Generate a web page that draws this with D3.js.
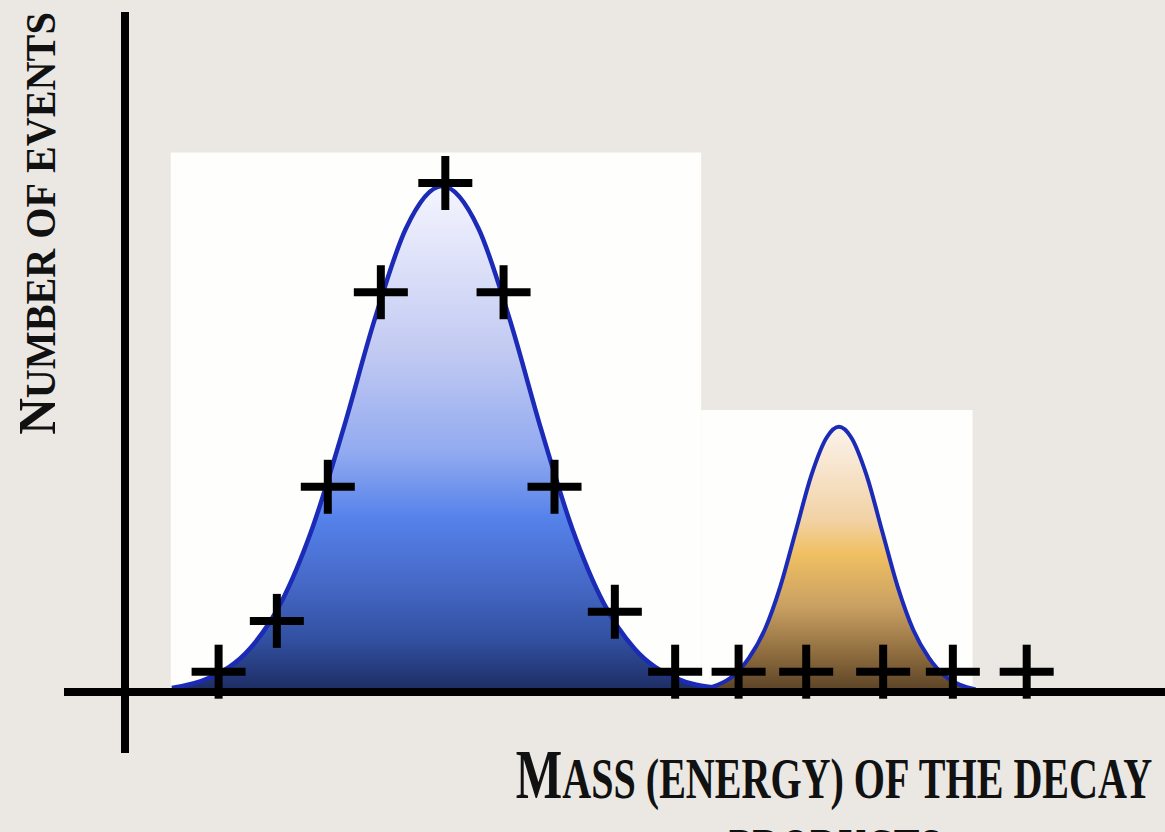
<!DOCTYPE html>
<html>
<head>
<meta charset="utf-8">
<script src="https://cdn.jsdelivr.net/npm/d3@7"></script>
<style>
  html, body { margin: 0; padding: 0; background: #ebe8e3; }
  svg { display: block; }
</style>
</head>
<body>
<div id="chart"></div>
<script>
// measured points (mass units, events)
const pointMass   = [9.0, 14.6, 19.5, 24.6, 30.8, 36.4, 41.3, 47.1, 52.9, 59.0, 65.5, 72.9, 79.6, 86.7];
const pointEvents = [3.8, 13.8, 40.2, 78.5, 100, 78.5, 40.2, 15.6, 3.8, 3.8, 3.8, 3.8, 3.8, 3.8];

// expected background shape (blue)
const bgMass   = [4.5, 8, 12, 15, 18, 21, 24, 27, 30.5, 34, 37, 40, 43, 46, 49, 53, 57, 61];
const bgEvents = [0.6, 2.5, 8.3, 17.4, 32.0, 51.6, 73.1, 91.0, 99.4, 91.0, 73.1, 51.6, 32.0, 17.4, 8.3, 2.5, 0.6, 0.1];

// expected signal shape (orange)
const sigMass   = [55.5, 57, 58.5, 60, 61.5, 63, 64.5, 66, 67.5, 68.65, 69.8, 71.3, 72.8, 74.3, 75.8, 77.3, 78.8, 80.3, 81.8];
const sigEvents = [0.3, 1.2, 3.0, 6.5, 12.0, 20.5, 31.5, 42.5, 50.0, 52.0, 50.0, 42.5, 31.5, 20.5, 12.0, 6.5, 3.0, 1.2, 0.3];

const width = 1165, height = 832;

let x = d3.scaleLinear().domain([0, 100]).range([125, 1165]);
let y = d3.scaleLinear().domain([0, 100]).range([691, 183]);

let svg = d3.select("#chart").append("svg")
    .attr("width", width)
    .attr("height", height);

let defs = svg.append("defs");

let blueGrad = defs.append("linearGradient")
    .attr("id", "blueFill")
    .attr("gradientUnits", "userSpaceOnUse")
    .attr("x1", 0).attr("x2", 0)
    .attr("y1", y(100)).attr("y2", y(0));
[[0, "#f6f6ff"], [0.33, "#c2caf2"], [0.53, "#92aaf0"], [0.66, "#5582ea"], [0.79, "#4668c6"], [0.9, "#3150a0"], [1, "#1d2c62"]]
  .forEach(function(s) {
      blueGrad.append("stop").attr("offset", s[0]).attr("stop-color", s[1]);
  });

let orangeGrad = defs.append("linearGradient")
    .attr("id", "orangeFill")
    .attr("gradientUnits", "userSpaceOnUse")
    .attr("x1", 0).attr("x2", 0)
    .attr("y1", y(52)).attr("y2", y(0));
[[0, "#fbf3ec"], [0.35, "#f2d2a6"], [0.48, "#f0c062"], [0.68, "#c9a062"], [0.86, "#8e6c3e"], [1, "#5a4226"]]
  .forEach(function(s) {
      orangeGrad.append("stop").attr("offset", s[0]).attr("stop-color", s[1]);
  });

// white panels behind the two curves
svg.append("rect")
    .attr("x", x(4.4)).attr("y", y(106))
    .attr("width", x(55.4) - x(4.4)).attr("height", y(0) - y(106))
    .style("fill", "#fefefc");
svg.append("rect")
    .attr("x", x(55.4)).attr("y", y(55.3))
    .attr("width", x(81.5) - x(55.4)).attr("height", y(0) - y(55.3))
    .style("fill", "#fefefc");

let area = d3.area()
    .x(function(d) { return x(d[0]); })
    .y0(y(0))
    .y1(function(d) { return y(d[1]); })
    .curve(d3.curveMonotoneX);
let line = d3.line()
    .x(function(d) { return x(d[0]); })
    .y(function(d) { return y(d[1]); })
    .curve(d3.curveMonotoneX);

let bg = d3.zip(bgMass, bgEvents);
let sig = d3.zip(sigMass, sigEvents);

svg.append("path").datum(bg).attr("d", area).style("fill", "url(#blueFill)");
svg.append("path").datum(bg).attr("d", line)
    .style("fill", "none").style("stroke", "#1b2bb8").style("stroke-width", 4.5);

svg.append("path").datum(sig).attr("d", area).style("fill", "url(#orangeFill)");
svg.append("path").datum(sig).attr("d", line)
    .style("fill", "none").style("stroke", "#1b2bb8").style("stroke-width", 4);

// axes
svg.append("line")
    .attr("x1", 64).attr("x2", width)
    .attr("y1", y(0) + 1).attr("y2", y(0) + 1)
    .style("stroke", "#000").style("stroke-width", 8);
svg.append("line")
    .attr("x1", x(0)).attr("x2", x(0))
    .attr("y1", 12).attr("y2", 753)
    .style("stroke", "#000").style("stroke-width", 8);

// data points as plus signs
let plus = svg.selectAll(".pt")
    .data(d3.zip(pointMass, pointEvents))
  .enter().append("g")
    .attr("class", "pt")
    .attr("transform", function(d) { return "translate(" + x(d[0]) + "," + y(d[1]) + ")"; });
plus.append("line").attr("x1", -27).attr("x2", 27).attr("y1", 0).attr("y2", 0)
    .style("stroke", "#000").style("stroke-width", 8);
plus.append("line").attr("x1", 0).attr("x2", 0).attr("y1", -27).attr("y2", 27)
    .style("stroke", "#000").style("stroke-width", 8);

// small caps label: first letter of capitalised words is big
function smallCaps(textSel, str, big, small) {
    let words = str.split(" ");
    words.forEach(function(w, i) {
        let first = w[0], rest = w.slice(1);
        let isCap = /[A-Z]/.test(first);
        textSel.append("tspan").style("font-size", (isCap ? big : small) + "px")
            .text((i > 0 ? " " : "") + first.toUpperCase());
        if (rest) textSel.append("tspan").style("font-size", small + "px").text(rest.toUpperCase());
    });
}

// squeeze a label horizontally to a target width
function fitLabel(textSel, cx, cy, targetW, rotate) {
    let w = textSel.node().getComputedTextLength();
    let s = targetW / w;
    textSel.attr("transform", "translate(" + cx + "," + cy + ")" + (rotate ? " rotate(-90)" : "") + " scale(" + s + ",1)");
}

let yLabel = svg.append("text")
    .attr("text-anchor", "middle")
    .style("font-family", "'Liberation Serif', serif")
    .style("font-weight", "bold")
    .style("fill", "#111");
smallCaps(yLabel, "Number of events", 53, 42);
fitLabel(yLabel, 55, 223.5, 421, true);

let xLabel1 = svg.append("text")
    .attr("text-anchor", "middle")
    .style("font-family", "'Liberation Serif', serif")
    .style("font-weight", "bold")
    .style("fill", "#111");
smallCaps(xLabel1, "Mass (energy) of the decay", 70, 57);
fitLabel(xLabel1, 834, 798, 635, false);

let xLabel2 = svg.append("text")
    .attr("text-anchor", "middle")
    .style("font-family", "'Liberation Serif', serif")
    .style("font-weight", "bold")
    .style("fill", "#111");
smallCaps(xLabel2, "products", 70, 57);
fitLabel(xLabel2, 835, 868, 212, false);
</script>
</body>
</html>
